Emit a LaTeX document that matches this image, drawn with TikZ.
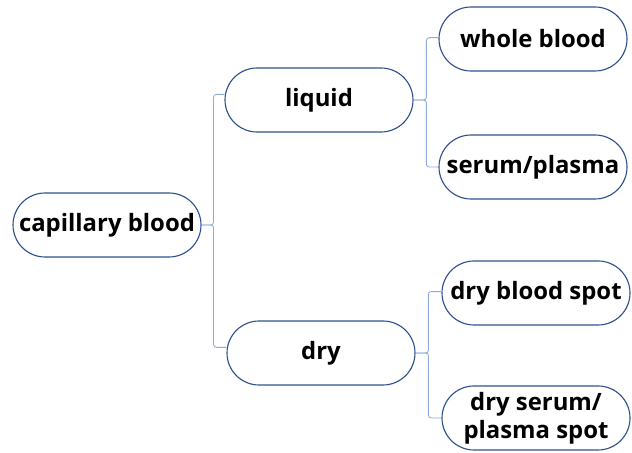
\documentclass[tikz,border=0pt]{standalone}
\usepackage{fontspec}
\setmainfont{Open Sans}
\usepackage{tikz}
\usetikzlibrary{positioning}
\definecolor{boxline}{HTML}{2F528F}
\definecolor{branchline}{HTML}{8FAADC}
\tikzset{
    topic/.style = {rectangle, draw=boxline, line width=0.8pt, rounded corners=0.8cm, minimum width=4.7cm, minimum height=1.6cm, fill=white, align=center, font=\fontsize{17}{20}\selectfont\bfseries},
    branch/.style = {draw=branchline, line width=0.6pt, rounded corners=2pt}
}
\begin{document}
\begin{tikzpicture}
%
\useasboundingbox (0,0) rectangle (15.8,11.325);
%
\node[topic] at (2.675, 5.7) (cap) {capillary blood};
\node[topic] at (7.975, 8.825) (liquid) {liquid};
\node[topic] at (8.025, 2.5) (dry) {dry};
\node[topic] at (13.325, 10.35) (whole) {whole blood};
\node[topic] at (13.325, 7.15) (serum) {serum/plasma};
\node[topic] at (13.4, 4.0) (dbs) {dry blood spot};
\node[topic] at (13.4, 0.875) (dss) {dry serum/\\plasma spot};
%
\draw[branch] (cap.east) -- ++(0.3,0) |- ([yshift=4pt]liquid.west);
\draw[branch] (cap.east) -- ++(0.3,0) |- ([yshift=4pt]dry.west);
\draw[branch] (liquid.east) -- ++(0.32,0) |- ([yshift=1pt]whole.west);
\draw[branch] (liquid.east) -- ++(0.32,0) |- (serum.west);
\draw[branch] (dry.east) -- ++(0.32,0) |- ([yshift=1pt]dbs.west);
\draw[branch] (dry.east) -- ++(0.32,0) |- (dss.west);

\end{tikzpicture}
\end{document}
